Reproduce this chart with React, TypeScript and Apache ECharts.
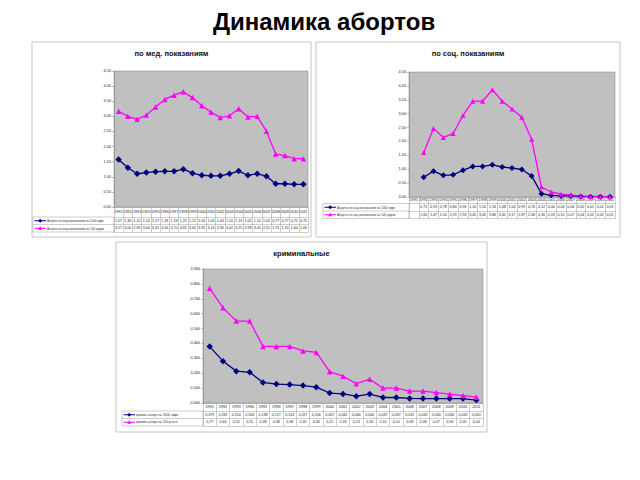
import React, { useEffect, useRef } from "react";
import * as echarts from "echarts";

const years = ["1991","1992","1993","1994","1995","1996","1997","1998","1999","2000","2001","2002","2003","2004","2005","2006","2007","2008","2009","2010","2011"];

const medPer1000 = [1.57,1.30,1.10,1.14,1.17,1.18,1.18,1.25,1.12,1.05,1.03,1.03,1.10,1.19,1.05,1.10,1.02,0.77,0.77,0.75,0.75];
const medPer100 = [3.17,3.00,2.90,3.04,3.31,3.56,3.70,3.81,3.62,3.35,3.14,2.96,3.02,3.25,2.98,3.00,2.51,1.75,1.70,1.60,1.60];
const socPer1000 = [null,0.71,0.93,0.78,0.80,0.96,1.10,1.10,1.16,1.08,1.04,0.99,0.76,0.12,0.06,0.04,0.04,0.02,0.01,0.01,0.01];
const socPer100 = [null,1.60,2.47,2.14,2.29,2.93,3.45,3.45,3.86,3.45,3.17,2.87,2.08,0.36,0.18,0.10,0.07,0.04,0.02,0.02,0.01];
const crimPer1000 = [0.379,0.281,0.214,0.206,0.138,0.127,0.124,0.117,0.106,0.067,0.061,0.046,0.060,0.037,0.037,0.031,0.030,0.030,0.030,0.030,0.020];
const crimPer100 = [0.77,0.64,0.55,0.55,0.38,0.38,0.38,0.35,0.34,0.21,0.18,0.13,0.16,0.10,0.10,0.08,0.08,0.07,0.06,0.05,0.04];

const mainTitle = "Динамика абортов";
const panelTitles = ["по мед. показаниям", "по соц. показаниям", "криминальные"];
const medLegend = ["Аборты по мед.показаниям на 1000 жфв", "Аборты по мед.показаниям на 100 родов"];
const socLegend = ["Аборты по соц.показаниям на 1000 жфв", "Аборты по соц.показаниям на 100 родов"];
const crimLegend = ["кримин.аборт.на 1000 жфв", "кримин.аборт.на 100 р.ж.в."];

const NAVY = "#000080";
const MAGENTA = "#ff00ff";
const FONT = "Liberation Sans";

type Panel = {
  box: number[];
  grid: number[];
  legendLeft: number;
  yearRowH: number;
  rowH: number;
  yMax: number;
  yInterval: number;
  yDec: number;
  rows: (number | null)[][];
  rowDec: number[];
  legend: string[];
  title: string;
  titleY: number;
  symSize: number;
  legendFont: number;
};

const panels: Panel[] = [
  {
    box: [32, 42, 311, 237], grid: [114, 71, 308, 207], legendLeft: 33,
    yearRowH: 10, rowH: 7.5, yMax: 4.5, yInterval: 0.5, yDec: 2,
    rows: [medPer1000, medPer100], rowDec: [2, 2], legend: medLegend,
    title: panelTitles[0], titleY: 53, symSize: 5.5, legendFont: 3,
  },
  {
    box: [316, 42, 620, 237], grid: [409, 72, 615, 197], legendLeft: 323,
    yearRowH: 6.5, rowH: 7.5, yMax: 4.5, yInterval: 0.5, yDec: 2,
    rows: [socPer1000, socPer100], rowDec: [2, 2], legend: socLegend,
    title: panelTitles[1], titleY: 53, symSize: 5, legendFont: 3.1,
  },
  {
    box: [116, 242, 487, 432], grid: [203, 269, 483, 403], legendLeft: 122,
    yearRowH: 8, rowH: 7.5, yMax: 0.9, yInterval: 0.1, yDec: 3,
    rows: [crimPer1000, crimPer100], rowDec: [3, 2], legend: crimLegend,
    title: panelTitles[2], titleY: 253, symSize: 5.5, legendFont: 3.4,
  },
];

const fmt = (v: number | null | undefined, d: number) =>
  v == null ? "" : v.toFixed(d).replace(".", ",");

function buildOption() {
  const grids: any[] = [];
  const xAxes: any[] = [];
  const yAxes: any[] = [];
  const series: any[] = [];
  const graphics: any[] = [];

  graphics.push({
    type: "text", x: 324, y: 21, z: 10,
    style: { text: mainTitle, fill: "#000", font: `bold 24px "${FONT}"`, textAlign: "center", textVerticalAlign: "middle" },
  });

  panels.forEach((p, i) => {
    const [gl, gt, gr, gb] = p.grid;
    grids.push({
      left: gl, top: gt, width: gr - gl, height: gb - gt,
      show: true, backgroundColor: "#c0c0c0", borderColor: "#808080", borderWidth: 0.5,
    });
    const base = xAxes.length;
    const lineC = "#9a9a9a";
    xAxes.push({
      gridIndex: i, type: "category", data: years, position: "bottom", boundaryGap: true,
      axisLine: { show: true, lineStyle: { color: "#808080", width: 0.5 } },
      axisTick: { show: true, interval: 0, length: p.yearRowH, lineStyle: { color: lineC, width: 0.5 } },
      axisLabel: { interval: 0, fontSize: 3.8, color: "#222", fontFamily: FONT, margin: Math.max(1, (p.yearRowH - 4) / 2) },
    });
    p.rows.forEach((row, r) => {
      xAxes.push({
        gridIndex: i, type: "category", data: years, position: "bottom", boundaryGap: true,
        offset: p.yearRowH + r * p.rowH,
        axisLine: { show: true, lineStyle: { color: lineC, width: 0.5 } },
        axisTick: { show: true, interval: 0, length: p.rowH, lineStyle: { color: lineC, width: 0.5 } },
        axisLabel: {
          interval: 0, fontSize: 3.6, color: "#222", fontFamily: FONT, margin: (p.rowH - 3.6) / 2,
          formatter: (_v: string, idx: number) => fmt(row[idx], p.rowDec[r]),
        },
      });
    });
    xAxes.push({
      gridIndex: i, type: "category", data: years, position: "bottom", boundaryGap: true,
      offset: p.yearRowH + 2 * p.rowH,
      axisLine: { show: true, lineStyle: { color: lineC, width: 0.5 } },
      axisTick: { show: false }, axisLabel: { show: false },
    });
    yAxes.push({
      gridIndex: i, type: "value", min: 0, max: p.yMax, interval: p.yInterval,
      axisLine: { show: true, lineStyle: { color: "#808080", width: 0.5 } },
      axisTick: { show: true, length: 2, lineStyle: { color: "#808080", width: 0.5 } },
      splitLine: { show: false },
      axisLabel: { fontSize: 3.8, color: "#222", fontFamily: FONT, margin: 3, formatter: (v: number) => fmt(v, p.yDec) },
    });
    series.push({
      type: "line", xAxisIndex: base, yAxisIndex: i, data: p.rows[0],
      symbol: "diamond", symbolSize: p.symSize + 1, color: NAVY,
      lineStyle: { color: NAVY, width: 1.3 }, itemStyle: { color: NAVY },
    });
    series.push({
      type: "line", xAxisIndex: base, yAxisIndex: i, data: p.rows[1],
      symbol: "triangle", symbolSize: p.symSize, color: MAGENTA,
      lineStyle: { color: MAGENTA, width: 1.3 }, itemStyle: { color: MAGENTA },
    });

    const [bx1, by1, bx2, by2] = p.box;
    graphics.push({
      type: "rect", z: -10, shape: { x: bx1, y: by1, width: bx2 - bx1, height: by2 - by1 },
      style: { fill: "none", stroke: "#c4c4c4", lineWidth: 1 },
    });
    graphics.push({
      type: "text", x: (bx1 + bx2) / 2, y: p.titleY,
      style: { text: p.title, fill: "#111", font: `bold 7.5px "${FONT}"`, textAlign: "center", textVerticalAlign: "middle" },
    });
    const r0 = gb + p.yearRowH;
    const ll = p.legendLeft;
    [0, 1, 2].forEach((k) => {
      graphics.push({
        type: "line", shape: { x1: ll, y1: r0 + k * p.rowH, x2: gl, y2: r0 + k * p.rowH },
        style: { stroke: lineC, lineWidth: 0.5 },
      });
    });
    graphics.push({
      type: "line", shape: { x1: ll, y1: r0, x2: ll, y2: r0 + 2 * p.rowH },
      style: { stroke: lineC, lineWidth: 0.5 },
    });
    graphics.push({
      type: "line", shape: { x1: gl, y1: r0, x2: gl, y2: r0 + 2 * p.rowH },
      style: { stroke: lineC, lineWidth: 0.5 },
    });
    p.legend.forEach((txt, r) => {
      const cy = r0 + (r + 0.5) * p.rowH;
      const col = r === 0 ? NAVY : MAGENTA;
      graphics.push({
        type: "line", shape: { x1: ll + 1.5, y1: cy, x2: ll + 13, y2: cy },
        style: { stroke: col, lineWidth: 1 },
      });
      const mx = ll + 7.2;
      graphics.push(
        r === 0
          ? { type: "polygon", shape: { points: [[mx, cy - 2], [mx + 2, cy], [mx, cy + 2], [mx - 2, cy]] }, style: { fill: col } }
          : { type: "polygon", shape: { points: [[mx, cy - 2], [mx + 2, cy + 1.6], [mx - 2, cy + 1.6]] }, style: { fill: col } }
      );
      graphics.push({
        type: "text", x: ll + 14, y: cy,
        style: { text: txt, fill: "#333", font: `${p.legendFont}px "${FONT}"`, textAlign: "left", textVerticalAlign: "middle" },
      });
    });
  });

  return {
    animation: false,
    backgroundColor: "#ffffff",
    grid: grids,
    xAxis: xAxes,
    yAxis: yAxes,
    series,
    graphic: graphics,
  };
}

export default function App() {
  const ref = useRef<HTMLDivElement>(null);
  useEffect(() => {
    if (!ref.current) return;
    const chart = echarts.init(ref.current, undefined, { renderer: "svg" });
    chart.setOption(buildOption() as any);
    return () => chart.dispose();
  }, []);
  return (
    <div
      ref={ref}
      style={{ position: "absolute", left: 0, top: 0, width: 640, height: 480 }}
    />
  );
}
